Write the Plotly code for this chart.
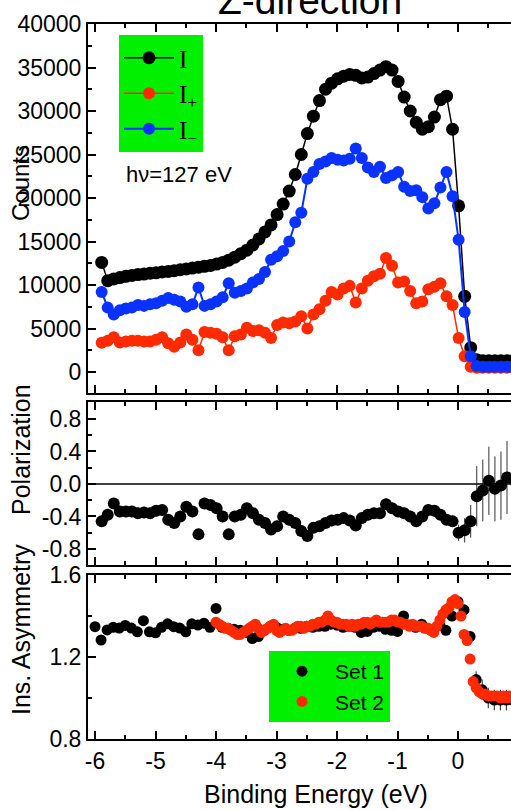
import numpy as np
import plotly.graph_objects as go

# ---------------- data ----------------
# top & middle panels: points every 0.1 eV starting at -5.89 eV
I_total = [12600, 10500, 10700, 10850, 11000, 11100, 11200, 11250, 11350, 11400,
           11500, 11550, 11650, 11750, 11850, 11950, 12050, 12150, 12250, 12400,
           12600, 12850, 13200, 13600, 14000, 14600, 15300, 16100, 16900, 18100,
           19300, 20800, 22700, 25000, 27400, 29400, 31200, 32500, 33200, 33700,
           34000, 34200, 34100, 33800, 33900, 34300, 34700, 35100, 34700, 33400,
           31600, 30000, 28700, 27900, 28200, 29300, 31300, 31700, 27900, 19100,
           8700, 2800, 1400, 1300, 1300, 1300, 1300, 1300, 1300]
I_plus = [3350, 3600, 4000, 3400, 3500, 3600, 3600, 3500, 3500, 3700,
          4000, 3300, 2900, 3400, 4300, 3700, 2500, 4600, 4500, 4400,
          4000, 2500, 4100, 4300, 5100, 4700, 4800, 4500, 3900, 5400,
          5700, 5600, 5800, 6400, 5000, 6600, 7200, 8200, 9200, 8900,
          9600, 9900, 8000, 9600, 10500, 11000, 11300, 13100, 12200, 10300,
          10400, 9300, 7900, 8100, 9500, 9800, 10200, 8700, 7700, 3900,
          1800, 600, 500, 500, 500, 500, 500, 500, 500]
I_minus = [9200, 7400, 6600, 7100, 7300, 7400, 7700, 7600, 7800, 7900,
           8200, 8500, 8300, 8100, 7500, 7800, 9700, 7600, 7800, 8100,
           8600, 10200, 9100, 9300, 9600, 10300, 10700, 11500, 12900, 13300,
           13900, 15000, 17200, 18300, 22200, 23000, 23900, 24200, 24600, 24400,
           24300, 24500, 25700, 24600, 23500, 23000, 23600, 22300, 22600, 23000,
           21300, 20800, 20900, 20100, 18800, 19400, 21200, 23000, 20200, 15200,
           6900, 1800, 700, 600, 600, 600, 600, 600, 600]
polarization = [-0.46, -0.38, -0.24, -0.34, -0.34, -0.34, -0.36, -0.35, -0.36, -0.33,
                -0.32, -0.44, -0.48, -0.40, -0.28, -0.34, -0.62, -0.24, -0.26, -0.30,
                -0.40, -0.62, -0.40, -0.38, -0.30, -0.36, -0.44, -0.48, -0.56, -0.52,
                -0.40, -0.44, -0.48, -0.58, -0.64, -0.54, -0.52, -0.48, -0.45, -0.44,
                -0.42, -0.45, -0.51, -0.42, -0.38, -0.36, -0.36, -0.25, -0.30, -0.34,
                -0.36, -0.40, -0.46, -0.40, -0.32, -0.33, -0.38, -0.44, -0.46, -0.60,
                -0.57, -0.46, -0.15, -0.08, 0.04, -0.06, -0.02, 0.08, 0.06]
pol_err = [0.07] * 59 + [0.10, 0.15, 0.20, 0.37, 0.38, 0.42, 0.40, 0.42, 0.45, 0.45]

# bottom panel: Set 1 every 0.1 eV from -6.0, Set 2 every 0.05 eV from -4.0
set1 = [1.348, 1.283, 1.332, 1.345, 1.341, 1.354, 1.341, 1.323, 1.377, 1.323,
        1.318, 1.345, 1.362, 1.348, 1.341, 1.323, 1.362, 1.356, 1.365, 1.345,
        1.437, 1.345, 1.340, 1.335, 1.330, 1.320, 1.290, 1.300, 1.330, 1.350,
        1.345, 1.335, 1.330, 1.340, 1.340, 1.350, 1.345, 1.350, 1.350, 1.360,
        1.355, 1.345, 1.350, 1.345, 1.320, 1.325, 1.345, 1.350, 1.335, 1.330,
        1.325, 1.400, 1.355, 1.345, 1.360, 1.340, 1.330, 1.355, 1.330, 1.400,
        1.470, 1.430, 1.300, 1.090, 1.040, 1.000, 0.990, 0.990, 0.990, 0.990]
set2 = [1.37, 1.36, 1.35, 1.34, 1.34, 1.33, 1.32, 1.31, 1.31, 1.32,
        1.33, 1.34, 1.35, 1.36, 1.34, 1.32, 1.33, 1.34, 1.35, 1.36,
        1.33, 1.32, 1.33, 1.34, 1.33, 1.33, 1.34, 1.35, 1.35, 1.34,
        1.35, 1.35, 1.36, 1.36, 1.37, 1.37, 1.38, 1.40, 1.38, 1.37,
        1.37, 1.36, 1.36, 1.36, 1.35, 1.36, 1.35, 1.36, 1.36, 1.37,
        1.37, 1.36, 1.37, 1.38, 1.37, 1.37, 1.37, 1.37, 1.38, 1.38,
        1.37, 1.37, 1.36, 1.36, 1.35, 1.36, 1.35, 1.35, 1.35, 1.34,
        1.34, 1.33, 1.32, 1.35, 1.38, 1.41, 1.43, 1.44, 1.47, 1.48,
        1.46, 1.40, 1.31, 1.28, 1.19, 1.08, 1.05, 1.03, 1.02, 1.02,
        1.01, 1.01, 1.01, 1.01, 1.00, 1.01, 1.00, 1.01, 1.00]
set1_err = [0.01] * 63 + [0.04, 0.05, 0.05, 0.05, 0.05, 0.05, 0.05]
set2_err = [0.012] * 84 + [0.02] * 15

x_tickvals = [-6, -5, -4, -3, -2, -1, 0]
x_ticktext = ["-6", "-5", "-4", "-3", "-2", "-1", "0"]
counts_tickvals = [0, 5000, 10000, 15000, 20000, 25000, 30000, 35000, 40000]
pol_tickvals = [-0.8, -0.4, 0.0, 0.4, 0.8]
pol_ticktext = ["-0.8", "-0.4", "0.0", "0.4", "0.8"]
asym_tickvals = [0.8, 1.2, 1.6]
asym_ticktext = ["0.8", "1.2", "1.6"]

x_main = np.round(-5.89 + 0.1 * np.arange(len(I_total)), 2)
x_set1 = np.round(-6.0 + 0.1 * np.arange(len(set1)), 2)
x_set2 = np.round(-4.0 + 0.05 * np.arange(len(set2)), 2)

# ---------------- styling ----------------
W, H = 511, 810
BLACK = "#000000"
RED = "#ff2a00"
BLUE = "#0a32ff"
GREEN = "#00f000"
SANS = "Liberation Sans, Arial, sans-serif"
SERIF = "Liberation Serif, Times New Roman, serif"


def py(p):
    return 1 - p / H


def px(p):
    return p / W


fig = go.Figure()

# top panel
fig.add_trace(go.Scatter(
    x=x_main, y=I_total, mode="lines+markers", name="I",
    line=dict(color=BLACK, width=1.5), marker=dict(color=BLACK, size=13),
    error_y=dict(type="constant", value=150, color="#333333", thickness=1, width=0),
    xaxis="x", yaxis="y", legend="legend"))
fig.add_trace(go.Scatter(
    x=x_main, y=I_plus, mode="lines+markers", name="I<sub>+</sub>",
    line=dict(color=RED, width=1.5), marker=dict(color=RED, size=12),
    error_y=dict(type="constant", value=550, color="#ff6a50", thickness=1, width=0),
    xaxis="x", yaxis="y", legend="legend"))
fig.add_trace(go.Scatter(
    x=x_main, y=I_minus, mode="lines+markers", name="I<sub>\u2212</sub>",
    line=dict(color=BLUE, width=2), marker=dict(color=BLUE, size=12),
    error_y=dict(type="constant", value=600, color="#5a78ff", thickness=1, width=0),
    xaxis="x", yaxis="y", legend="legend"))

# middle panel
fig.add_trace(go.Scatter(
    x=x_main, y=polarization, mode="markers", showlegend=False,
    marker=dict(color=BLACK, size=12),
    error_y=dict(type="data", array=pol_err, color="#333333", thickness=1, width=0),
    xaxis="x2", yaxis="y2"))

# bottom panel
fig.add_trace(go.Scatter(
    x=x_set1, y=set1, mode="markers", name="Set 1",
    marker=dict(color=BLACK, size=11),
    error_y=dict(type="data", array=set1_err, color="#222222", thickness=1, width=0),
    xaxis="x3", yaxis="y3", legend="legend2"))
fig.add_trace(go.Scatter(
    x=x_set2, y=set2, mode="markers", name="Set 2",
    marker=dict(color=RED, size=11),
    error_y=dict(type="data", array=set2_err, color="#ff6a50", thickness=1, width=0),
    xaxis="x3", yaxis="y3", legend="legend2"))

XR = [-6.116, 0.876]
tick_font = dict(family=SANS, size=23, color=BLACK)
common_x = dict(range=XR, domain=[px(88), 1.0], showline=True, linecolor=BLACK, linewidth=2,
                mirror="allticks", ticks="inside", ticklen=8, tickwidth=2, tickcolor=BLACK,
                tickvals=x_tickvals, ticktext=x_ticktext, showgrid=False, zeroline=False,
                automargin=False,
                minor=dict(ticks="inside", ticklen=4, tickwidth=1.5, dtick=0.5, tick0=0,
                           tickcolor=BLACK, showgrid=False),
                tickfont=tick_font)
common_y = dict(showline=True, linecolor=BLACK, linewidth=2, mirror=False,
                ticks="inside", ticklen=8, tickwidth=2, tickcolor=BLACK, automargin=False,
                showgrid=False, zeroline=False, tickfont=tick_font)

fig.update_layout(
    width=W, height=H, margin=dict(l=0, r=0, t=0, b=0, autoexpand=False),
    paper_bgcolor="white", plot_bgcolor="white",
    xaxis=dict(common_x, anchor="y", showticklabels=False),
    xaxis2=dict(common_x, anchor="y2", showticklabels=False, matches="x"),
    xaxis3=dict(common_x, anchor="y3", showticklabels=True, matches="x"),
    yaxis=dict(common_y, anchor="x", domain=[py(393), py(24)], range=[-2414, 40000],
               tickvals=counts_tickvals, tickformat="d",
               minor=dict(ticks="inside", ticklen=4, tickwidth=1.5, dtick=2500, tick0=0,
                          tickcolor=BLACK, showgrid=False)),
    yaxis2=dict(common_y, anchor="x2", domain=[py(565), py(402)], range=[-0.997, 1.009],
                tickvals=pol_tickvals, ticktext=pol_ticktext,
                minor=dict(ticks="inside", ticklen=4, tickwidth=1.5, dtick=0.2, tick0=0,
                           tickcolor=BLACK, showgrid=False)),
    yaxis3=dict(common_y, anchor="x3", domain=[py(739), py(575)], range=[0.8, 1.6],
                tickvals=asym_tickvals, ticktext=asym_ticktext,
                minor=dict(ticks="inside", ticklen=4, tickwidth=1.5, dtick=0.2, tick0=0,
                           tickcolor=BLACK, showgrid=False)),
    legend=dict(x=px(119), y=py(35), xanchor="left", yanchor="top", bgcolor=GREEN,
                borderwidth=0, font=dict(family=SERIF, size=25, color=BLACK),
                itemwidth=50, tracegroupgap=0),
    legend2=dict(x=px(269), y=py(651), xanchor="left", yanchor="top", bgcolor=GREEN,
                 borderwidth=0, font=dict(family=SANS, size=21, color=BLACK),
                 itemwidth=56, tracegroupgap=0),
    showlegend=True,
)

# zero line in polarization panel
fig.add_shape(type="line", xref="x2 domain", yref="y2", x0=0, x1=1, y0=0, y1=0,
              line=dict(color=BLACK, width=1.5))

# texts
fig.add_annotation(text="Z-direction", xref="paper", yref="paper", x=px(310), y=py(24),
                   xanchor="center", yanchor="bottom", showarrow=False,
                   font=dict(family=SANS, size=39, color=BLACK))
fig.add_annotation(text="h\u03bd=127 eV", xref="paper", yref="paper", x=px(124), y=py(175),
                   xanchor="left", yanchor="middle", showarrow=False,
                   font=dict(family=SANS, size=22, color=BLACK))
fig.add_annotation(text="Counts", xref="paper", yref="paper", x=px(21), y=py(183),
                   xanchor="center", yanchor="middle", showarrow=False, textangle=-90,
                   font=dict(family=SANS, size=24, color=BLACK))
fig.add_annotation(text="Polarization", xref="paper", yref="paper", x=px(21), y=py(450),
                   xanchor="center", yanchor="middle", showarrow=False, textangle=-90,
                   font=dict(family=SANS, size=25, color=BLACK))
fig.add_annotation(text="Ins. Asymmetry", xref="paper", yref="paper", x=px(21), y=py(630),
                   xanchor="center", yanchor="middle", showarrow=False, textangle=-90,
                   font=dict(family=SANS, size=25, color=BLACK))
fig.add_annotation(text="Binding Energy (eV)", xref="paper", yref="paper", x=px(316), y=py(794),
                   xanchor="center", yanchor="middle", showarrow=False,
                   font=dict(family=SANS, size=25, color=BLACK))

fig.write_html("out.html")
